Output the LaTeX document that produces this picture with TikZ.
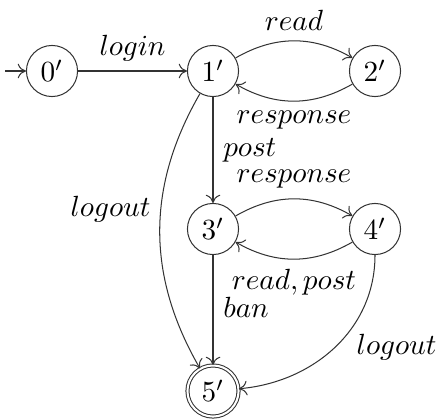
\documentclass[tikz,border=0pt]{standalone}
\usetikzlibrary{arrows.meta}
\begin{document}
\begin{tikzpicture}[x=0.3425pt,y=-0.3425pt,
  state/.style={circle,draw=black!80,line width=0.35pt,minimum size=17.5pt,inner sep=0pt},
  final/.style={state,double,double distance=0.7pt},
  trans/.style={-{Computer Modern Rightarrow[length=2.8pt,width=5pt]},draw=black!80,line width=0.35pt}]
\useasboundingbox (0,0) rectangle (437,419);
\coordinate (init) at (5,71);
\node[state] (s0) at (52,71) {$0'$};
\node[state] (s1) at (213,71) {$1'$};
\node[state] (s2) at (375,71) {$2'$};
\node[state] (s3) at (213,229) {$3'$};
\node[state] (s4) at (375,229) {$4'$};
\node[final] (s5) at (213,391) {$5'$};
\draw[trans] (init) -- (s0);
\draw[trans] (s0) -- node[above]{$login$} (s1);
\draw[trans] (s1) to[bend left=30] node[above]{$read$} (s2);
\draw[trans] (s2) to[bend left=30] node[below]{$response$} (s1);
\draw[trans] (s1) -- node[right]{$post$} (s3);
\draw[trans] (s3) to[bend left=30] node[above]{$response$} (s4);
\draw[trans] (s4) to[bend left=30] node[below]{$read, post$} (s3);
\draw[trans] (s1) to[bend right=30] node[left,pos=0.42]{$logout$} (s5);
\draw[trans] (s3) -- node[right,yshift=1pt]{$ban$} (s5);
\draw[trans] (s4) to[out=-90,in=5] node[right,xshift=4pt]{$logout$} (s5);
\end{tikzpicture}
\end{document}
